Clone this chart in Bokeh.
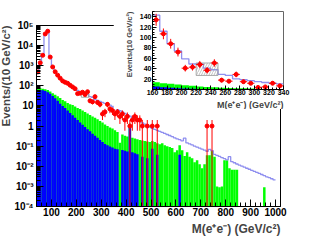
import math
from bokeh.plotting import figure
from bokeh.models import Range1d, FixedTicker, Title
from bokeh.layouts import column
from bokeh.embed import file_html
from bokeh.resources import INLINE

# ---------------- data (10 GeV bins, 40 .. 1000 GeV) ----------------
bin_lo = list(range(40, 1000, 10))

data_counts = [490, 1400, 3300, 38000, 52000, 2700, 870, 500, 340, 240,
               175, 150, 134, 107, 88, 72, 41, 43, 48, 37,
               51, 18, 16, 29, 15, 12, 4, 5, 12, 7,
               6, 4, 5, 3, 4, 2, 3, 1, 2, 3,
               2, 2, 1, 0, 1, 0, 1, 0, 1, 0,
               0, 0, 0, 0, 0, 0, 0, 0, 0, 0,
               0, 0, 0, 0, 0, 0, 0, 0, 1, 0,
               1, 0, 0, 0, 0, 0, 0, 0, 0, 0,
               0, 0, 0, 0, 0, 0, 0, 0, 0, 0,
               0, 0, 0, 0, 0, 0]

mc_total = [520, 1500, 3600, 35000, 60000, 2900, 920, 530, 350, 255,
            195, 160, 143, 112, 88, 74, 59, 49, 49, 41,
            38, 29, 27, 20.5, 19, 17, 15, 13.5, 12, 11,
            9.4, 8.0, 6.9, 5.9, 5.0, 4.3, 3.7, 3.1, 2.7, 2.3,
            2.0, 1.7, 1.45, 1.25, 1.05, 0.9, 0.78, 0.69, 0.61, 0.54,
            0.48, 0.43, 0.38, 0.34, 0.30, 0.26, 0.23, 0.21, 0.185, 0.25,
            0.145, 0.13, 0.115, 0.10, 0.09, 0.08, 0.071, 0.063, 0.056, 0.07,
            0.06, 0.039, 0.035, 0.031, 0.027, 0.024, 0.021, 0.03, 0.017, 0.015,
            0.013, 0.0115, 0.0102, 0.009, 0.008, 0.0071, 0.0063, 0.0056, 0.005, 0.0044,
            0.0039, 0.0034, 0.003, 0.0027, 0.0024, 0.0021]

# stacked total of the two backgrounds (green)
bkg_green = [75, 75, 72, 68, 62, 52, 43, 36, 30, 25,
             20, 17, 14, 12, 11, 9.5, 8, 7, 6, 5,
             4.2, 3.5, 3.0, 2.6, 2.2, 1.8, 1.5, 1.2, 1.0, 0.85,
             0.75, 0.62, 0.5, 0.15, 0.38, 0.33, 0.3, 1.3, 0.26, 0.24,
             0.22, 0.2, 0.19, 0.18, 0.17, 0.16, 0.18, 0.16, 0.14, 0.125,
             0.14, 0.11, 0.1, 0.09, 0.08, 0.05, 0.063, 0.11, 0.063, 0.032,
             0.05, 0.03, 0.025, 0.016, 0.02, 0.0125, 0.008, 0.0125, 0.035, 0.035,
             0.06, 0.03, 0.001, 0.0009, 0.001, 0.02, 0.02, 0.008, 0.0068, 0.0068,
             0.0068, 0, 0, 0, 0, 0, 0, 0, 0, 0,
             0, 0.0009, 0, 0, 0, 0]

# lower background (blue)
bkg_blue = [62, 62, 60, 55, 48, 40, 31, 24, 18, 13,
            10, 7.8, 6.0, 4.5, 3.4, 2.6, 2.0, 1.5, 1.15, 0.9,
            0.7, 0.55, 0.42, 0.33, 0.26, 0.2, 0.16, 0.13, 0.11, 0.095,
            0.085, 0.075, 0.07, 0, 0.065, 0.06, 0.055, 1.1, 0.05, 0.045,
            0.04, 0, 0.03, 0, 0.025, 0, 0.074, 0, 0.037, 0,
            0, 0, 0, 0, 0, 0, 0, 0.037, 0, 0,
            0, 0, 0, 0, 0, 0, 0, 0, 0, 0,
            0, 0, 0, 0, 0, 0, 0, 0, 0, 0,
            0, 0, 0, 0, 0, 0, 0, 0, 0, 0,
            0, 0, 0, 0, 0, 0]

# hatched uncertainty box (mass range, event range)
box_mass = [220, 250]
box_events = [27, 51]

main_xticks = [100, 200, 300, 400, 500, 600, 700, 800, 900, 1000]
main_yticks = [1e-4, 1e-3, 1e-2, 1e-1, 1, 10, 1e2, 1e3, 1e4, 1e5]
main_ylabels = ["10\u207b\u2074", "10\u207b\u00b3", "10\u207b\u00b2", "10\u207b\u00b9", "1",
                "10", "10\u00b2", "10\u00b3", "10\u2074", "10\u2075"]
inset_xticks = [160, 180, 200, 220, 240, 260, 280, 300, 320, 340]
inset_yticks = [20, 40, 60, 80, 100, 120, 140]

ytitle = "Events/(10 GeV/c\u00b2)"
xtitle = "M(e\u207ae\u207b) (GeV/c\u00b2)"

GREEN = "#00ff00"
BLUE = "#0000ff"
MCCOL = "#8f8fef"
RED = "#ff0000"
FONT = "Liberation Sans"


def style_axes(fig, size, tick_in, minor_in):
    for ax in list(fig.xaxis) + list(fig.yaxis):
        ax.major_tick_in = tick_in
        ax.major_tick_out = 0
        ax.minor_tick_in = minor_in
        ax.minor_tick_out = 0
        ax.major_label_text_font = FONT
        ax.major_label_text_font_style = "bold"
        ax.major_label_text_font_size = size
        ax.major_label_text_color = "black"
        ax.axis_line_color = "black"
        ax.major_tick_line_color = "black"
        ax.minor_tick_line_color = "black"
    fig.grid.visible = False
    fig.outline_line_color = "black"
    fig.background_fill_color = "white"
    fig.border_fill_color = "white"


def draw_hist(fig, lo, hi, floor):
    idx_g = [i for i in range(len(bin_lo)) if lo <= bin_lo[i] < hi and bkg_green[i] > 0]
    fig.quad(left=[bin_lo[i] for i in idx_g], right=[bin_lo[i] + 10 for i in idx_g],
             bottom=floor, top=[bkg_green[i] for i in idx_g],
             fill_color=GREEN, line_color=None)
    idx_b = [i for i in range(len(bin_lo)) if lo <= bin_lo[i] < hi and bkg_blue[i] > 0]
    fig.quad(left=[bin_lo[i] for i in idx_b], right=[bin_lo[i] + 10 for i in idx_b],
             bottom=floor, top=[bkg_blue[i] for i in idx_b],
             fill_color=BLUE, line_color=None)
    idx_m = [i for i in range(len(bin_lo)) if lo <= bin_lo[i] < hi]
    xs = [bin_lo[i] for i in idx_m] + [bin_lo[idx_m[-1]] + 10]
    ys = [mc_total[i] for i in idx_m] + [mc_total[idx_m[-1]]]
    fig.step(x=xs, y=ys, mode="after", line_color=MCCOL, line_width=1.3)
    fig.quad(left=box_mass[0], right=box_mass[1], bottom=box_events[0], top=box_events[1],
             fill_color=None, line_color="#999999", line_width=0.8,
             hatch_pattern="/", hatch_color="#999999", hatch_scale=5, hatch_weight=0.6)
    # data points
    idx_d = [i for i in range(len(bin_lo)) if lo <= bin_lo[i] < hi and data_counts[i] > 0]
    cx = [bin_lo[i] + 5 for i in idx_d]
    n = [data_counts[i] for i in idx_d]
    elo = [max(v - math.sqrt(v), floor * 0.1) for v in n]
    ehi = [v + math.sqrt(v) for v in n]
    fig.segment(x0=cx, x1=cx, y0=elo, y1=ehi, line_color=RED, line_width=1)
    fig.segment(x0=[c - 5 for c in cx], x1=[c + 5 for c in cx], y0=n, y1=n,
                line_color=RED, line_width=1)
    fig.scatter(x=cx, y=n, marker="circle", size=4, fill_color=RED, line_color=RED)


# ---------------- main plot ----------------
p = figure(width=314, height=236, x_range=Range1d(40, 1020), y_range=Range1d(1e-4, 1e5),
           y_axis_type="log", output_backend="svg", toolbar_location=None, title=None,
           min_border_left=36, min_border_right=28, min_border_top=25, min_border_bottom=29)
draw_hist(p, 40, 1000, 1e-5)
p.xaxis.ticker = FixedTicker(ticks=main_xticks, minor_ticks=list(range(40, 1021, 20)))
minors = []
for e in range(-4, 5):
    for k in range(2, 10):
        minors.append(k * 10.0 ** e)
p.yaxis.ticker = FixedTicker(ticks=main_yticks, minor_ticks=minors)
p.yaxis.major_label_overrides = {t: s for t, s in zip(main_yticks, main_ylabels)}
style_axes(p, "10px", 7, 4)
p.xaxis.major_label_standoff = 1
p.yaxis.major_label_standoff = 3
p.add_layout(Title(text=ytitle, align="right", text_font=FONT, text_font_style="bold",
                   text_font_size="11.5px", standoff=0, offset=0), "left")
p.add_layout(Title(text=xtitle, align="right", text_font=FONT, text_font_style="bold",
                   text_font_size="12px", standoff=2, offset=0), "below")
p.margin = (0, 0, -12, -3)

# ---------------- inset ----------------
ins = figure(width=198, height=107, x_range=Range1d(160, 340), y_range=Range1d(0, 150),
             output_backend="svg", toolbar_location=None, title=None,
             min_border_left=31, min_border_right=15, min_border_top=9, min_border_bottom=18)
draw_hist(ins, 160, 340, 0)
ins.xaxis.ticker = FixedTicker(ticks=inset_xticks, minor_ticks=list(range(160, 341, 5)))
ins.yaxis.ticker = FixedTicker(ticks=inset_yticks, minor_ticks=list(range(0, 151, 5)))
style_axes(ins, "7px", 4, 2)
ins.outline_line_color = "#666666"
ins.xaxis.major_label_standoff = 0
ins.yaxis.major_label_standoff = 1
ins.add_layout(Title(text=ytitle, align="right", text_font=FONT, text_font_style="bold",
                     text_font_size="7.5px", standoff=6, offset=0), "left")
ins.add_layout(Title(text=xtitle, align="right", text_font=FONT, text_font_style="bold",
                     text_font_size="9px", standoff=0, offset=0), "below")
ins.margin = (-222, 0, 115, 113)

layout = column(p, ins)
open("out.html", "w").write(file_html(layout, INLINE))
